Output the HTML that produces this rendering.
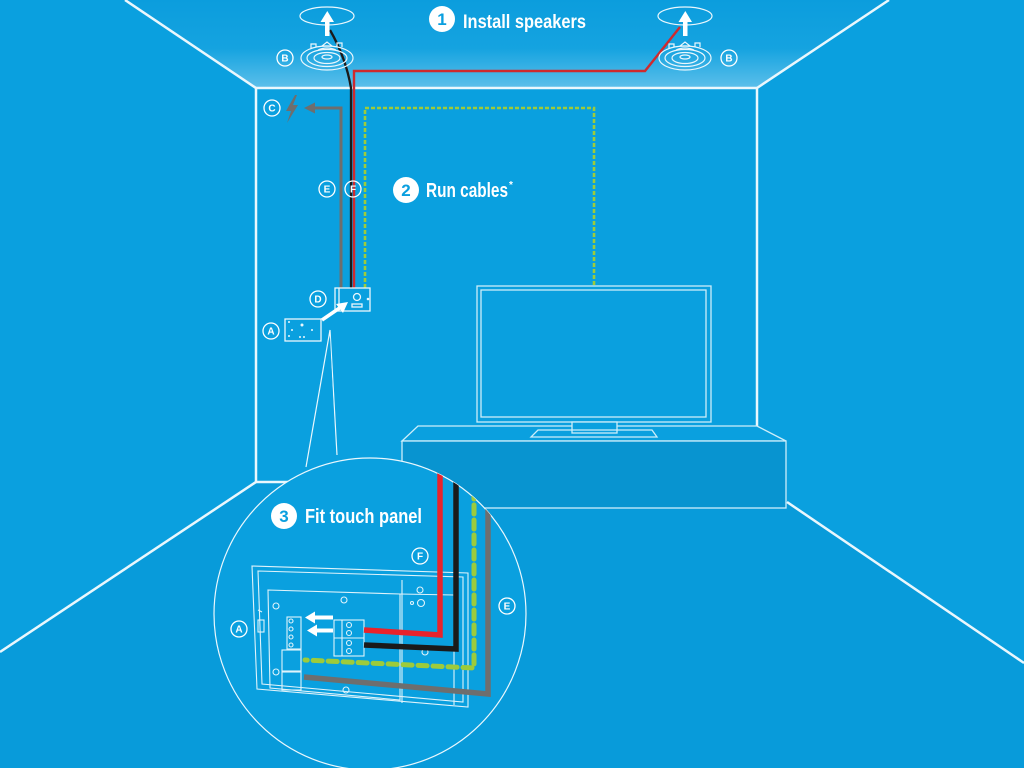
<!DOCTYPE html>
<html><head><meta charset="utf-8"><style>
html,body{margin:0;padding:0;background:#0aa0df;}
svg{display:block;}
.t{font-family:"Liberation Sans Narrow","Liberation Sans",sans-serif;font-weight:bold;fill:#fff;}
.lb{font-family:"Liberation Sans Narrow","Liberation Sans",sans-serif;font-weight:bold;fill:#fff;font-size:10px;text-anchor:middle;}
.bn{font-family:"Liberation Sans",sans-serif;font-weight:bold;fill:#0a9fdf;font-size:17px;text-anchor:middle;}
</style></head><body>
<svg width="1024" height="768" viewBox="0 0 1024 768" xmlns="http://www.w3.org/2000/svg">
<defs>
<linearGradient id="ceil" x1="0" y1="0" x2="0" y2="1">
<stop offset="0" stop-color="#0b9ddd"/><stop offset="0.55" stop-color="#15a3e0"/><stop offset="1" stop-color="#5cbfea"/>
</linearGradient>
<clipPath id="cc"><circle cx="370" cy="614" r="156"/></clipPath>
</defs>
<rect width="1024" height="768" fill="#0aa0df"/>
<!-- floor shade -->
<polygon points="0,652 256,482 787,482 787,502 1024,663 1024,768 0,768" fill="#089bda"/>
<!-- ceiling -->
<polygon points="125,0 889,0 757,88 256,88" fill="url(#ceil)"/>
<!-- room edges -->
<g stroke="#eaf7fd" stroke-width="2.5" fill="none">
<line x1="125" y1="0" x2="256" y2="88"/>
<line x1="889" y1="0" x2="757" y2="88"/>
<line x1="256" y1="88" x2="757" y2="88"/>
<line x1="256" y1="88" x2="256" y2="482"/>
<line x1="757" y1="88" x2="757" y2="427"/>
<line x1="256" y1="482" x2="0" y2="652"/>
<line x1="787" y1="502" x2="1024" y2="663"/>
<line x1="256" y1="482" x2="300" y2="482"/>
</g>
<!-- cabinet -->
<g stroke="#cdeefa" stroke-width="1.3">
<polygon points="418,426 757,426 786,441 402,441" fill="#0aa0df"/>
<rect x="402" y="441" width="384" height="67" fill="#0894d0"/>
</g>
<!-- TV -->
<g stroke="#cdeefa" stroke-width="1.3" fill="none">
<rect x="477" y="286" width="234" height="136"/>
<rect x="481" y="290" width="225" height="127"/>
<rect x="572" y="422" width="45" height="11" fill="#0aa0df"/>
<polygon points="538,430 652,430 657,437 531,437"/>
</g>
<!-- green dashed -->
<path d="M365,288 L365,108 L594,108 L594,286" stroke="#9dcb3b" stroke-width="2.6" fill="none" stroke-dasharray="4 2"/>
<!-- gray E -->
<path d="M341,288 L341,108 L313,108" stroke="#6e6e6e" stroke-width="3" fill="none"/>
<polygon points="304,108 315,102.5 315,113.5" fill="#6e6e6e"/>
<!-- lightning -->
<polygon points="295,95 286,111 291,111 287,123 298,105 293,105 297,95" fill="#6e6e6e"/>
<!-- black -->
<path d="M330,30 Q346,58 351,88 L351,288" stroke="#1a1a1a" stroke-width="2.3" fill="none"/>
<!-- red -->
<path d="M354,288 L354,71 L645,71 L680,27" stroke="#cf2a2e" stroke-width="2.4" fill="none"/>
<!-- speakers -->
<g stroke="#eaf7fd" stroke-width="1.2" fill="none">
<ellipse cx="327" cy="16" rx="27" ry="9"/>
<ellipse cx="685" cy="16" rx="27" ry="9"/>
<ellipse cx="327" cy="58" rx="26" ry="12"/>
<ellipse cx="327" cy="58" rx="20" ry="8.5"/>
<ellipse cx="327" cy="58" rx="13" ry="5.5"/>
<ellipse cx="327" cy="57" rx="5" ry="2"/>
<path d="M311,48 l0,-4 l5,0 l0,3 M337,47 l0,-4 l5,0 l0,4 M322,46 l10,0 l-5,-4 z M318,50 q9,-4 18,0"/>
<ellipse cx="685" cy="58" rx="26" ry="12"/>
<ellipse cx="685" cy="58" rx="20" ry="8.5"/>
<ellipse cx="685" cy="58" rx="13" ry="5.5"/>
<ellipse cx="685" cy="57" rx="5" ry="2"/>
<path d="M669,48 l0,-4 l5,0 l0,3 M695,47 l0,-4 l5,0 l0,4 M680,46 l10,0 l-5,-4 z M676,50 q9,-4 18,0"/>
</g>
<g fill="#fff">
<rect x="325" y="20" width="4.5" height="16"/><polygon points="320.5,22 327.3,11 334,22"/>
<rect x="683" y="20" width="4.5" height="16"/><polygon points="678.5,22 685.3,11 692,22"/>
</g>
<!-- D box, A panel -->
<g stroke="#eaf7fd" stroke-width="1.3" fill="none">
<rect x="335" y="288" width="35" height="23"/>
<line x1="339" y1="288" x2="339" y2="311"/>
<circle cx="357" cy="297" r="3.5"/>
<rect x="352" y="304" width="10" height="3"/>
<rect x="285" y="319" width="36" height="22"/>
</g>
<g fill="#eaf7fd">
<circle cx="368" cy="299" r="1.3"/><circle cx="289" cy="322" r="1"/><circle cx="302" cy="325" r="1.5"/><circle cx="292" cy="330" r="1"/><circle cx="312" cy="330" r="1"/><circle cx="300" cy="337" r="1"/><circle cx="304" cy="337" r="1"/><circle cx="289" cy="336" r="1"/>
</g>
<path d="M322,320 L341,307" stroke="#fff" stroke-width="3.5"/>
<polygon points="348,302 336,304 343,313" fill="#fff"/>
<!-- callout bubble -->
<path d="M306,467 L330,330 L337,455" fill="#0aa0df" stroke="#eaf7fd" stroke-width="1.2"/>
<circle cx="370" cy="614" r="156" fill="#0aa0df" stroke="#eaf7fd" stroke-width="1.2"/>
<path d="M307,467.5 L330,336 L336,456" fill="#0aa0df" stroke="none"/>
<!-- inset panel -->
<g stroke="#dff3fb" stroke-width="1.1" fill="none" clip-path="url(#cc)">
<polygon points="252,566 468,573 468,707 257,689"/>
<polygon points="258,571 463,577 463,702 262,684"/>
<polygon points="268,590 400,594 400,700 270,688"/>
<line x1="402" y1="580" x2="402" y2="703"/>
<line x1="454" y1="580" x2="454" y2="705"/>
<line x1="400" y1="594" x2="454" y2="595"/>
<circle cx="421" cy="603" r="3.5"/><circle cx="412" cy="603" r="1.5"/>
<circle cx="276" cy="606" r="3"/><circle cx="344" cy="600" r="3"/><circle cx="420" cy="590" r="3"/>
<circle cx="276" cy="672" r="3"/><circle cx="346" cy="690" r="3"/><circle cx="425" cy="652" r="3"/>
<rect x="287" y="617" width="14" height="32"/>
<circle cx="291" cy="621" r="2"/><circle cx="291" cy="629" r="2"/><circle cx="291" cy="637" r="2"/><circle cx="291" cy="645" r="2"/>
<rect x="282" y="650" width="19" height="21"/>
<rect x="282" y="672" width="19" height="18"/>
<rect x="334" y="620" width="30" height="36"/>
<line x1="334" y1="638" x2="364" y2="638"/><line x1="342" y1="620" x2="342" y2="656"/>
<circle cx="349" cy="625" r="2.5"/><circle cx="349" cy="633" r="2.5"/><circle cx="349" cy="643" r="2.5"/><circle cx="349" cy="651" r="2.5"/>
<line x1="258" y1="610" x2="262" y2="612"/><rect x="258" y="620" width="6" height="12"/>
</g>
<!-- inset white arrows -->
<g fill="#fff">
<rect x="313" y="615.5" width="20" height="4"/><polygon points="305,617.5 315,611.5 315,623.5"/>
<rect x="315" y="628.5" width="18" height="4"/><polygon points="307,630.5 317,624.5 317,636.5"/>
</g>
<!-- inset cables -->
<g clip-path="url(#cc)" fill="none">
<path d="M488,460 L488,694 L304,677" stroke="#6e6e6e" stroke-width="5.5"/>
<path d="M474,460 L474,668 L305,660" stroke="#9dcb3b" stroke-width="5" stroke-dasharray="9 6" stroke-linecap="round"/>
<path d="M456,460 L456,649 L364,645" stroke="#1a1a1a" stroke-width="5.5"/>
<path d="M440,460 L440,635 L364,630" stroke="#e8232b" stroke-width="5.5"/>
</g>
<!-- letter labels -->
<g stroke="#fff" stroke-width="1.3" fill="none">
<circle cx="272" cy="108" r="8"/><circle cx="285" cy="58" r="8"/><circle cx="729" cy="58" r="8"/>
<circle cx="327" cy="189" r="8"/><circle cx="353" cy="189" r="8"/><circle cx="318" cy="299" r="8"/>
<circle cx="271" cy="331" r="8"/><circle cx="420" cy="556" r="8"/><circle cx="507" cy="606" r="8"/><circle cx="239" cy="629" r="8"/>
</g>
<g class="lb">
<text x="272" y="111.5">C</text><text x="285" y="61.5">B</text><text x="729" y="61.5">B</text>
<text x="327" y="192.5">E</text><text x="353" y="192.5">F</text><text x="318" y="302.5">D</text>
<text x="271" y="334.5">A</text><text x="420" y="559.5">F</text><text x="507" y="609.5">E</text><text x="239" y="632.5">A</text>
</g>
<!-- headings -->
<circle cx="442" cy="19" r="13" fill="#fff"/>
<text class="bn" x="442" y="25">1</text>
<text class="t" x="463" y="28" font-size="19" textLength="123" lengthAdjust="spacingAndGlyphs">Install speakers</text>
<circle cx="406" cy="190" r="13" fill="#fff"/>
<text class="bn" x="406" y="196">2</text>
<text class="t" x="426" y="197" font-size="20" textLength="82" lengthAdjust="spacingAndGlyphs">Run cables</text>
<text class="t" x="509" y="188" font-size="10">*</text>
<circle cx="284" cy="516" r="13" fill="#fff"/>
<text class="bn" x="284" y="522">3</text>
<text class="t" x="305" y="523" font-size="20" textLength="117" lengthAdjust="spacingAndGlyphs">Fit touch panel</text>
</svg>
</body></html>
